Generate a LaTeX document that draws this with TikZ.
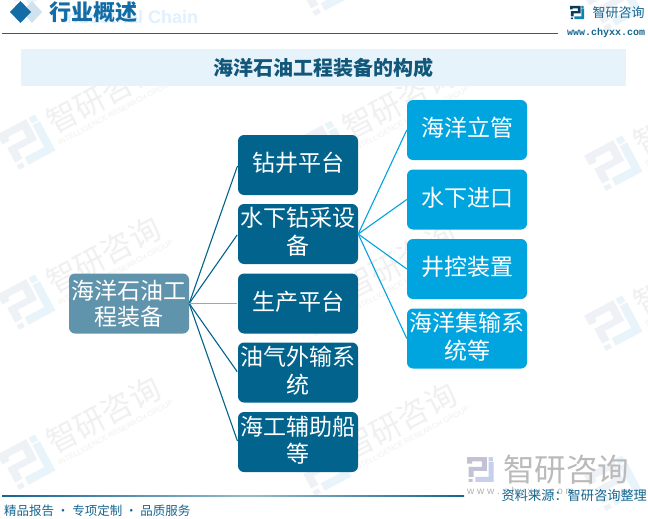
\documentclass[tikz,border=0pt]{standalone}
\usepackage{fontspec}
\setmainfont{Noto Sans CJK SC}
\newfontfamily\latinf{Liberation Sans}
\newfontfamily\monof{Liberation Mono}
\usetikzlibrary{calc}
\definecolor{dark}{HTML}{02648C}
\definecolor{light}{HTML}{00A5DF}
\definecolor{root}{HTML}{6094AC}
\definecolor{band}{HTML}{E6F3FB}
\definecolor{hdr}{HTML}{146CA6}
\definecolor{rule}{HTML}{156690}
\definecolor{wmgrey}{HTML}{EEF1F5}
\definecolor{wmblue}{HTML}{E9F4FA}
\definecolor{wmtxt}{HTML}{F0F0F0}
\tikzset{
  x=1pt,y=-1pt,
  boxbase/.style={rounded corners=6pt,text=white,align=center,minimum width=120pt,text width=118pt,minimum height=60pt,inner sep=1pt,font=\fontsize{23}{27.5}\selectfont},
  rootbox/.style={boxbase,fill=root,font=\fontsize{23}{26}\selectfont},
  lifted/.style={execute at end node={\par\vspace{4pt}}},
  midbox/.style={boxbase,lifted,fill=dark},
  leafbox/.style={boxbase,lifted,fill=light},
  linkdark/.style={draw=dark,line width=1.1pt,shorten >=1pt},
  linkpale/.style={draw=root!75!white,line width=1.4pt,shorten >=1pt},
  linklight/.style={draw=light,line width=1.1pt},
  wmtext/.style={text=wmtxt,font=\fontsize{31}{32}\selectfont,anchor=west,inner sep=0pt,transform shape},
  wmsub/.style={text=wmtxt,font=\latinf\fontsize{7.6}{8}\selectfont,anchor=west,inner sep=0pt,transform shape},
  plainlabel/.style={inner sep=0pt,anchor=west},
}
% #1 scale, #2 first colour, #3 second colour; origin is the top-left corner of the mark
\newcommand{\brandmark}[3]{%
\begin{scope}[scale=#1]
  \fill[#2] (0,0) rectangle (60,13) (0,13) rectangle (15,20) (45,0) rectangle (60,42)
            (10,30) rectangle (60,42) (5,30) rectangle (20,60) (5,66) rectangle (17,75);
  \fill[#3] (65,0) rectangle (78,12) (65,15) rectangle (80,75) (25,60) rectangle (80,75);
\end{scope}}
\newcommand{\wmlogo}[2]{%
\begin{scope}[shift={(#1,#2)},rotate=28,shift={(-22,-20)}]
  \brandmark{0.55}{wmgrey}{wmblue}
\end{scope}}
\newcommand{\wm}[2]{%
\wmlogo{#1}{#2}
\begin{scope}[shift={(#1,#2)},rotate=28]
  \node[wmtext] at (28,-5) {智研咨询};
  \node[wmsub] at (28,16) {INTELLIGENCE RESEARCH GROUP};
\end{scope}}
\begin{document}
\begin{tikzpicture}
\useasboundingbox (0,0) rectangle (648,519);
\fill[white] (0,0) rectangle (648,519);
% watermarks
\wmlogo{26}{-18}
\wm{26}{142}
\wm{26}{302}
\wm{26}{462}
\wmlogo{322}{-12}
\wm{322}{148}
\wm{322}{308}
\wm{322}{468}
\wmlogo{613}{3}
\wm{613}{163}
\wm{613}{323}
\wmlogo{613}{483}
% header
\node[plainlabel,text=blue!50!cyan!12,font=\latinf\bfseries\fontsize{18}{18}\selectfont] (hdrsub) at (62,17) {Industrial Chain};
\fill[hdr!20] (32,1) -- (42,12) -- (32,23) -- (22,12) -- cycle;
\fill[hdr] (20.5,1) -- (31,12) -- (20.5,23) -- (10,12) -- cycle;
\node[plainlabel,text=hdr,font=\bfseries\fontsize{22}{22}\selectfont] (hdr) at (49,12) {行业概述};
\draw[rule,line width=1pt] (2,33.5) -- (558,33.5);
\fill[band] (21,49) rectangle (626,86);
\node[text=rule!85!black,font=\bfseries\fontsize{20}{20}\selectfont,inner sep=0pt] (title) at (323.5,68) {海洋石油工程装备的构成};
% top logo
\begin{scope}[shift={(570,6)}]
  \brandmark{0.175}{hdr!55!black}{hdr!85!cyan}
\end{scope}
\node[plainlabel,text=rule,font=\fontsize{13}{13}\selectfont] (brand) at (592.5,13) {智研咨询};
\node[plainlabel,text=rule,font=\monof\bfseries\fontsize{10}{10}\selectfont] (url) at (567,33) {www.chyxx.com};
% nodes
\node[rootbox] (r) at (129,303.5) {海洋石油工\\程装备};
\node[midbox] (m1) at (298,165) {钻井平台};
\node[midbox] (m2) at (298,234) {水下钻采设\\备};
\node[midbox] (m3) at (298,303.5) {生产平台};
\node[midbox] (m4) at (298,372.5) {油气外输系\\统};
\node[midbox] (m5) at (298,442) {海工辅助船\\等};
\node[leafbox] (l1) at (467,130) {海洋立管};
\node[leafbox] (l2) at (467,199.5) {水下进口};
\node[leafbox] (l3) at (467,269) {井控装置};
\node[leafbox] (l4) at (467,338.5) {海洋集输系\\统等};
% links
\coordinate (rr) at (r.east);
\coordinate (mr) at (m2.east);
\foreach \t in {m1,m2,m4,m5} \draw[linkdark] (rr) -- (\t.west);
\draw[linkpale] (rr) -- (m3.west);
\foreach \t in {l1,l2,l3,l4} \draw[linklight] (mr) -- (\t.west);
% footer
\shade[left color=rule,right color=rule!45!white] (2,495) rectangle (250,496.5);
\shade[left color=rule!45!white,right color=rule] (250,495) rectangle (464,496.5);
\node[plainlabel,text=rule,font=\fontsize{12.5}{13}\selectfont] (foot) at (4,510.5) {精品报告 · 专项定制 · 品质服务};
\begin{scope}[shift={(467,457)}]
  \brandmark{0.333}{black!10!blue!20!gray!40}{cyan!40!blue!22}
\end{scope}
\node[plainlabel,text=black!27,font=\fontsize{31.5}{32}\selectfont] (wmb) at (503,470) {智研咨询};
\node[plainlabel,text=black!30,font=\latinf\fontsize{10}{10}\selectfont] (wmurl) at (467,492) {w w w . c h y x x . c o m};
\node[plainlabel,text=rule,font=\fontsize{13.2}{14}\selectfont] (src) at (501.5,496) {资料来源：智研咨询整理};
\end{tikzpicture}
\end{document}
